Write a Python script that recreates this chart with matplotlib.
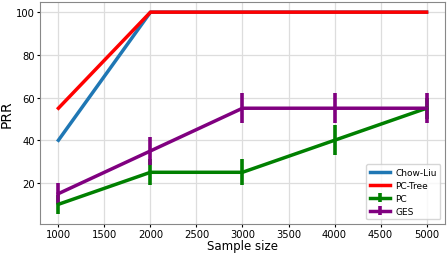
import numpy as np
import matplotlib
matplotlib.use("Agg")
import matplotlib.pyplot as plt

sizes = [1000, 2000, 3000, 4000, 5000]
chow_liu = [40, 100, 100, 100, 100]
pc_tree = [55, 100, 100, 100, 100]
pc = [10, 25, 25, 40, 55]
pc_err = [4.5, 6, 6, 7, 5]
ges = [15, 35, 55, 55, 55]
ges_err = [5, 6.5, 7, 7, 7]

fig, ax = plt.subplots(figsize=(4.47, 2.55), dpi=100)

ax.plot(sizes, chow_liu, color='tab:blue', lw=2.5, label='Chow-Liu')
ax.plot(sizes, pc_tree, color='red', lw=2.5, label='PC-Tree')
ax.errorbar(sizes, pc, yerr=pc_err, color='green', lw=2.5, elinewidth=2.6, capsize=0, label='PC')
ax.errorbar(sizes, ges, yerr=ges_err, color='purple', lw=2.5, elinewidth=2.6, capsize=0, label='GES')

ax.set_xlabel('Sample size', fontsize=8.5, labelpad=0)
ax.set_ylabel('PRR', fontsize=10, labelpad=1.5)
ax.set_xticks(np.arange(1000, 5001, 500))
ax.set_yticks([20, 40, 60, 80, 100])
ax.tick_params(labelsize=7.2, pad=1.2, length=2.5)
ax.grid(True, color='#dddddd', lw=0.9)
for s in ax.spines.values():
    s.set_color('#888888')
ax.legend(loc='lower right', fontsize=6.5, handlelength=2.2, borderpad=0.4,
          labelspacing=0.45, handletextpad=0.6)

fig.subplots_adjust(left=0.0895, right=0.9955, top=0.988, bottom=0.1176)
fig.savefig('out.png', dpi=100)
